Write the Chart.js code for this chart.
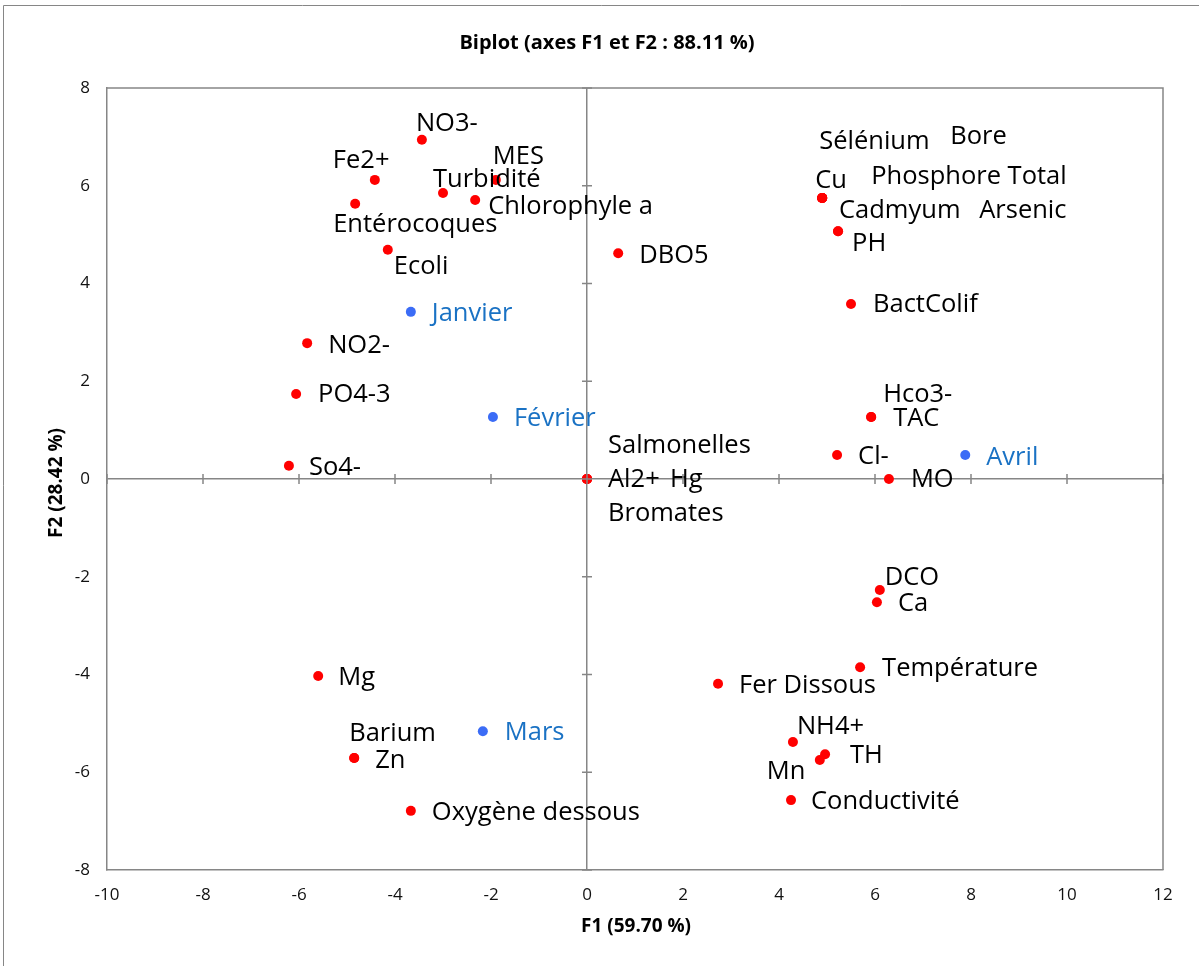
<!DOCTYPE html>
<html>
<head>
<meta charset="utf-8">
<script src="https://cdn.jsdelivr.net/npm/chart.js@4"></script>
<style>
  html, body { margin: 0; padding: 0; background: #fff; }
  #wrap { width: 1199px; height: 966px; position: relative; }
</style>
</head>
<body>
<div id="wrap"><canvas id="c" width="1199" height="966"></canvas></div>
<script>
// ---- Data ----
const varNames = ['NO3-','Fe2+','Entérocoques','Turbidité','MES','Chlorophyle a','Ecoli','DBO5',
  'Sélénium','Bore','Cu','Phosphore Total','Arsenic','Cadmyum','PH','BactColif',
  'Hco3-','TAC','Cl-','MO','Salmonelles','Al2+','Hg','Bromates',
  'NO2-','PO4-3','So4-','DCO','Ca','Température','Fer Dissous','NH4+','TH','Mn','Conductivité',
  'Mg','Barium','Zn','Oxygène dessous'];
const varF1 = [-3.44,-4.42,-4.83,-3.00,-1.90,-2.33,-4.15,0.65,
  4.90,4.90,4.90,4.90,4.90,5.23,5.23,5.50,
  5.92,5.92,5.21,6.29,0,0,0,0,
  -5.83,-6.06,-6.21,6.10,6.04,5.69,2.73,4.29,4.96,4.85,4.25,
  -5.60,-4.85,-4.85,-3.67];
const varF2 = [6.94,6.12,5.63,5.85,6.12,5.71,4.69,4.62,
  5.75,5.75,5.75,5.75,5.75,5.07,5.07,3.58,
  1.27,1.27,0.49,0.00,0,0,0,0,
  2.78,1.74,0.27,-2.27,-2.52,-3.85,-4.19,-5.38,-5.63,-5.75,-6.57,
  -4.03,-5.71,-5.71,-6.79];

const obsNames = ['Janvier','Février','Mars','Avril'];
const obsF1 = [-3.67,-1.96,-2.17,7.88];
const obsF2 = [3.42,1.27,-5.16,0.49];

const xTicks = [-10,-8,-6,-4,-2,0,2,4,6,8,10,12];
const yTicks = [-8,-6,-4,-2,0,2,4,6,8];

const titleText = 'Biplot (axes F1 et F2 : 88.11 %)';
const xTitle = 'F1 (59.70 %)';
const yTitle = 'F2 (28.42 %)';

// ---- Label placement (pixel offsets from each point; style only) ----
const varLabelOffsets = [[-6,-16],[-42,-19],[-22,21],[-10,-13],[-3,-23],[13,7],[6,17],[21,3],
  [-3,-56],[128,-61],[-7,-17],[49,-21],[157,13],[1,-20],[14,13],[22,1],
  [12,-22],[22,2],[21,2],[22,1],[21,-33],[21,1],[83,1],[21,35],
  [21,3],[22,1],[20,2],[5,-12],[21,2],[22,2],[21,2],[4,-15],[25,2],[-53,12],[20,2],
  [20,2],[-5,-24],[21,3],[21,2]];
const obsLabelOffsets = [[21,2],[21,2],[22,2],[21,3]];

const FONT = '"Open Sans", "DejaVu Sans", sans-serif';
const GRAY = '#868686';

const varPts = varF1.map((v,i)=>({x:v,y:varF2[i]}));
const obsPts = obsF1.map((v,i)=>({x:v,y:obsF2[i]}));

const decorPlugin = {
  id: 'decor',
  beforeDraw(chart) {
    const ctx = chart.ctx;
    ctx.save();
    ctx.fillStyle = '#fff';
    ctx.fillRect(0,0,chart.width,chart.height);
    ctx.strokeStyle = GRAY;
    ctx.lineWidth = 1;
    ctx.beginPath();
    ctx.moveTo(3.5, chart.height);
    ctx.lineTo(3.5, 5.5);
    ctx.lineTo(chart.width, 5.5);
    ctx.stroke();
    ctx.restore();
  },
  afterDraw(chart) {
    const ctx = chart.ctx;
    const a = chart.chartArea;
    const xs = chart.scales.x, ys = chart.scales.y;
    ctx.save();
    ctx.strokeStyle = GRAY;
    ctx.lineWidth = 1.5;
    ctx.beginPath();
    ctx.moveTo(a.left, a.top);
    ctx.lineTo(a.right, a.top);
    ctx.lineTo(a.right, a.bottom);
    ctx.stroke();
    const x0 = xs.getPixelForValue(0), y0 = ys.getPixelForValue(0);
    ctx.beginPath();
    xTicks.forEach(v => { const px = xs.getPixelForValue(v); ctx.moveTo(px, y0-5); ctx.lineTo(px, y0+5); });
    yTicks.forEach(v => { const py = ys.getPixelForValue(v); ctx.moveTo(x0-5, py); ctx.lineTo(x0+5, py); });
    ctx.stroke();
    ctx.fillStyle = '#000';
    ctx.textAlign = 'center';
    ctx.textBaseline = 'middle';
    ctx.font = 'bold 20px ' + FONT;
    ctx.fillText(titleText, 607, 43);
    ctx.font = 'bold 19px ' + FONT;
    ctx.fillText(xTitle, 636, 927);
    ctx.save();
    ctx.translate(57, 483);
    ctx.rotate(-Math.PI/2);
    ctx.fillText(yTitle, 0, 0);
    ctx.restore();
    ctx.restore();
  },
  afterDatasetsDraw(chart) {
    const ctx = chart.ctx;
    ctx.save();
    ctx.font = '25.5px ' + FONT;
    ctx.textAlign = 'left';
    ctx.textBaseline = 'middle';
    const sets = [[varNames, varLabelOffsets, '#000'], [obsNames, obsLabelOffsets, '#1a72c4']];
    sets.forEach((s, di) => {
      const meta = chart.getDatasetMeta(di);
      ctx.fillStyle = s[2];
      meta.data.forEach((el, i) => {
        const off = s[1][i];
        ctx.fillText(s[0][i], el.x + off[0], el.y + off[1]);
      });
    });
    ctx.restore();
  }
};

new Chart(document.getElementById('c'), {
  type: 'scatter',
  data: {
    datasets: [
      { label: 'Variables', data: varPts, backgroundColor: '#ff0000', borderColor: '#ff0000', pointRadius: 5, borderWidth: 0 },
      { label: 'Observations', data: obsPts, backgroundColor: '#3b6cf6', borderColor: '#3b6cf6', pointRadius: 5, borderWidth: 0 }
    ]
  },
  options: {
    responsive: false,
    animation: false,
    layout: { padding: { left: 0, top: 88, right: 36, bottom: 0 } },
    plugins: { legend: { display: false }, tooltip: { enabled: false }, title: { display: false } },
    scales: {
      x: {
        type: 'linear', min: -10, max: 12,
        afterBuildTicks: s => { s.ticks = xTicks.map(v => ({value: v})); },
        afterFit: s => { s.height = 96; },
        ticks: { color: '#111', font: { family: FONT, size: 17 }, padding: 15, maxRotation: 0 },
        grid: { color: c => (c.tick && c.tick.value === 0) ? GRAY : 'transparent', lineWidth: 1.5, drawTicks: false },
        border: { display: true, color: GRAY, width: 1.5 }
      },
      y: {
        type: 'linear', min: -8, max: 8,
        afterBuildTicks: s => { s.ticks = yTicks.map(v => ({value: v})); },
        afterFit: s => { s.width = 107; },
        ticks: { color: '#111', font: { family: FONT, size: 17 }, padding: 17 },
        grid: { color: c => (c.tick && c.tick.value === 0) ? GRAY : 'transparent', lineWidth: 1.5, drawTicks: false },
        border: { display: true, color: GRAY, width: 1.5 }
      }
    }
  },
  plugins: [decorPlugin]
});
</script>
</body>
</html>
